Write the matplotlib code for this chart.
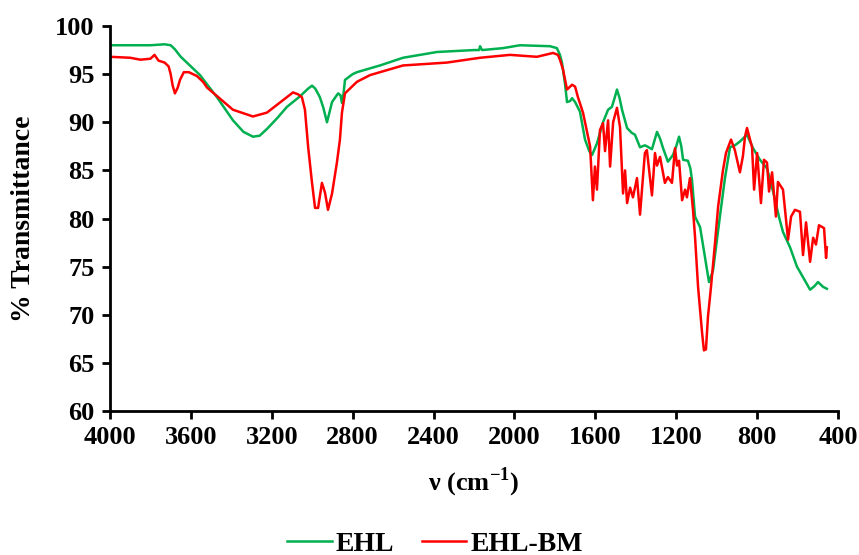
import matplotlib
matplotlib.use("Agg")
import matplotlib.pyplot as plt

plt.rcParams['font.family'] = ['Liberation Serif', 'DejaVu Serif']
plt.rcParams['font.weight'] = 'bold'
plt.rcParams['mathtext.fontset'] = 'custom'
plt.rcParams['mathtext.rm'] = 'Liberation Serif:bold'
plt.rcParams['mathtext.bf'] = 'Liberation Serif:bold'

ehl_wn = [4000, 3900, 3800, 3730, 3700, 3680, 3650, 3600, 3555, 3471, 3392, 3340, 3293, 3260,
          3224, 3170, 3125, 3060, 3020, 3001, 2985, 2962, 2945, 2927, 2915, 2902, 2872, 2860,
          2853, 2845, 2838, 2800, 2779, 2714, 2665, 2551, 2383, 2200, 2175, 2170, 2160, 2057,
          1973, 1824, 1790, 1775, 1765, 1750, 1740, 1725, 1715, 1700, 1676, 1651, 1630, 1616,
          1592, 1562, 1537, 1518, 1505, 1493, 1480, 1468, 1443, 1420, 1404, 1379, 1355, 1345,
          1320, 1295, 1280, 1265, 1241, 1216, 1200, 1186, 1175, 1166, 1142, 1130, 1122, 1107,
          1082, 1058, 1038, 1018, 984, 959, 934, 910, 885, 860, 850, 835, 820, 786, 751, 721,
          690, 672, 637, 603, 573, 538, 515, 499, 474, 455]
ehl_t = [98.0, 98.0, 98.0, 98.1, 98.0, 97.6, 96.8, 95.8, 94.9, 92.6, 90.2, 89.0, 88.5, 88.6,
         89.3, 90.5, 91.6, 92.7, 93.5, 93.8, 93.5, 92.6, 91.5, 90.0, 91.0, 92.1, 93.0, 92.8,
         92.0, 93.0, 94.4, 95.0, 95.2, 95.6, 95.9, 96.7, 97.3, 97.5, 97.5, 97.9, 97.5, 97.7,
         98.0, 97.9, 97.7, 97.0, 96.2, 94.0, 92.1, 92.2, 92.5, 92.1, 91.1, 88.2, 87.0, 86.6,
         87.8, 90.0, 91.3, 91.6, 92.5, 93.4, 92.5, 91.3, 89.4, 88.9, 88.7, 87.4, 87.6, 87.5,
         87.2, 89.0, 88.3, 87.3, 85.9, 86.6, 87.5, 88.5, 87.5, 86.1, 86.0, 85.2, 84.0, 80.2,
         79.1, 76.0, 73.4, 74.6, 80.2, 84.2, 87.4, 87.6, 88.0, 88.5, 88.7, 88.0, 87.3, 86.1,
         85.2, 82.8, 80.0, 78.6, 77.0, 75.0, 73.9, 72.6, 73.0, 73.4, 72.9, 72.7]

bm_wn = [4000, 3900, 3850, 3800, 3780, 3760, 3730, 3710, 3700, 3690, 3679, 3665, 3654, 3635,
         3610, 3590, 3570, 3540, 3520, 3392, 3293, 3224, 3150, 3095, 3070, 3051, 3036, 3020,
         3001, 2986, 2971, 2952, 2937, 2922, 2902, 2878, 2863, 2853, 2838, 2779, 2714, 2551,
         2334, 2170, 2022, 1889, 1809, 1785, 1775, 1760, 1740, 1715, 1700, 1686, 1661, 1636,
         1626, 1612, 1602, 1592, 1577, 1562, 1552, 1537, 1527, 1512, 1493, 1478, 1463, 1453,
         1443, 1428, 1414, 1394, 1379, 1355, 1345, 1320, 1305, 1295, 1280, 1256, 1241, 1221,
         1206, 1196, 1186, 1171, 1156, 1147, 1132, 1117, 1107, 1092, 1072, 1063, 1053, 1043,
         1028, 1008, 993, 969, 954, 929, 910, 885, 870, 860, 850, 825, 815, 800, 781, 766,
         751, 741, 726, 707, 697, 672, 647, 632, 613, 588, 573, 558, 538, 523, 509, 494, 469,
         459, 455]
bm_t = [96.8, 96.7, 96.5, 96.6, 97.0, 96.4, 96.2, 95.8, 95.0, 93.8, 93.0, 93.6, 94.4, 95.2,
        95.2, 95.0, 94.8, 94.2, 93.6, 91.3, 90.6, 91.0, 92.2, 93.1, 92.9, 92.6, 91.3, 87.4,
        83.7, 81.1, 81.1, 83.7, 82.7, 80.9, 82.6, 85.8, 88.2, 91.0, 93.0, 94.2, 94.9, 95.9,
        96.2, 96.7, 97.0, 96.8, 97.2, 97.0, 96.5, 95.5, 93.4, 93.9, 93.7, 92.6, 91.0, 88.5,
        87.5, 81.9, 85.4, 83.0, 89.2, 89.9, 87.0, 90.2, 85.4, 90.0, 91.5, 89.5, 82.6, 85.0,
        81.6, 83.2, 82.2, 84.2, 80.4, 86.8, 87.1, 82.4, 86.8, 85.5, 86.4, 83.7, 84.3, 83.7,
        87.3, 85.5, 86.0, 81.9, 83.0, 82.2, 84.2, 80.9, 78.1, 72.9, 68.1, 66.3, 66.4, 69.8,
        72.9, 77.5, 81.2, 85.0, 86.8, 88.2, 87.1, 84.8, 86.5, 88.5, 89.4, 87.4, 83.0, 86.8,
        81.6, 86.1, 85.8, 82.8, 84.8, 80.2, 83.8, 83.0, 77.8, 80.2, 80.9, 80.7, 76.2, 79.6,
        75.5, 78.0, 77.3, 79.3, 79.0, 75.9, 77.0]

x_ticks = [4000, 3600, 3200, 2800, 2400, 2000, 1600, 1200, 800, 400]
y_ticks = [60, 65, 70, 75, 80, 85, 90, 95, 100]

fig = plt.figure(figsize=(8.59, 5.55), dpi=100)
ax = fig.add_axes([110/859, 1 - 411/555, 728/859, 385/555])

ax.plot(ehl_wn, ehl_t, color='#00B050', lw=1.8, label='EHL')
ax.plot(bm_wn, bm_t, color='#FF0000', lw=1.8, label='EHL-BM')

ax.set_xlim(4000, 400)
ax.set_ylim(60, 100)
ax.set_xticks(x_ticks)
ax.set_yticks(y_ticks)
ax.tick_params(direction='out', length=6, width=2, labelsize=19, pad=5)
for lbl in ax.get_xticklabels() + ax.get_yticklabels():
    lbl.set_fontweight('bold')
for s in ['top', 'right']:
    ax.spines[s].set_visible(False)
for s in ['left', 'bottom']:
    ax.spines[s].set_linewidth(2)

ax.set_xlabel('ν (cm$^{\\mathbf{-1}}$)', fontsize=19, fontweight='bold', labelpad=12)
ax.set_ylabel('% Transmittance', fontsize=20, fontweight='bold', labelpad=14)

leg = fig.legend(loc='center', bbox_to_anchor=(435/859, 1 - 544/555), ncol=2, frameon=False,
                 prop={'family': 'Liberation Serif', 'weight': 'bold', 'size': 20},
                 handlelength=1.6, handletextpad=0.15, columnspacing=1.0)

fig.savefig('out.png', dpi=100)
